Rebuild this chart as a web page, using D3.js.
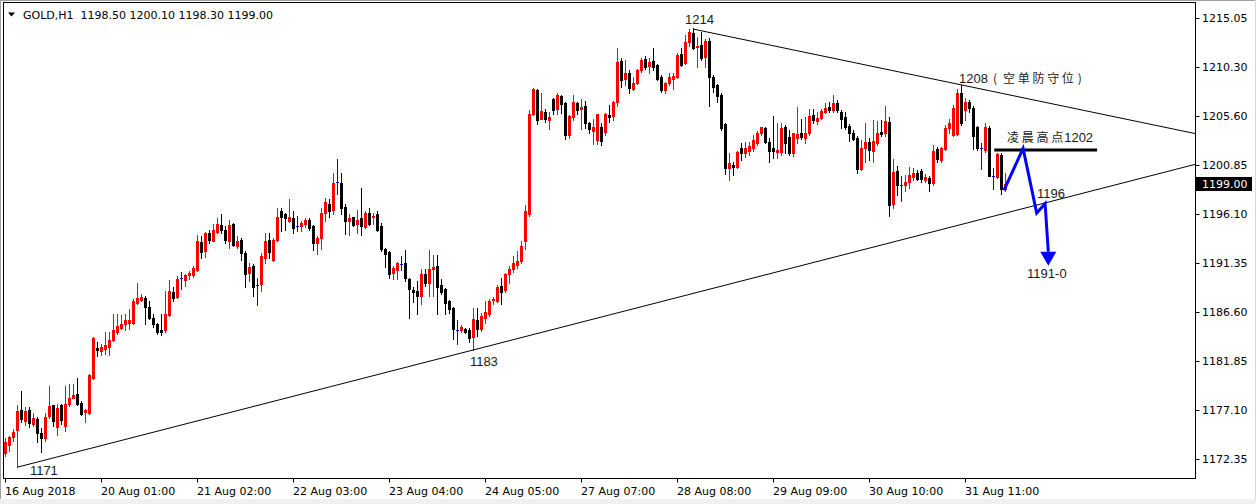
<!DOCTYPE html>
<html><head><meta charset="utf-8">
<script src="https://cdn.jsdelivr.net/npm/d3@7"></script>
<style>
html,body{margin:0;padding:0;background:#fff;}
svg{display:block;}
</style></head><body>
<svg id="c" width="1256" height="504"></svg>
<script>
// ---- data (hourly bars, index 0 = 16 Aug 2018) ----
const opens=[1173.0,1173.7,1174.5,1175.2,1177.16,1176.1,1177.16,1175.8,1176.29,1174.93,1174.45,1176.58,1177.65,1175.51,1177.65,1175.6,1177.74,1178.32,1178.71,1177.84,1176.97,1176.87,1180.26,1183.17,1182.88,1183.07,1183.26,1183.94,1184.72,1185.11,1185.49,1185.59,1185.59,1187.53,1187.82,1188.01,1187.14,1186.07,1185.49,1184.91,1184.91,1186.36,1188.59,1188.11,1189.95,1189.76,1190.24,1190.24,1190.72,1193.44,1192.57,1194.31,1193.54,1194.41,1195.08,1194.51,1193.54,1195.18,1193.05,1193.63,1192.37,1190.43,1191.11,1189.27,1189.37,1191.89,1193.63,1191.7,1193.63,1196.44,1196.06,1195.47,1195.67,1194.99,1194.99,1195.18,1195.57,1194.99,1193.34,1193.83,1196.25,1197.12,1196.54,1199.16,1199.06,1196.83,1195.38,1195.77,1195.18,1195.67,1194.89,1196.25,1195.77,1196.06,1194.99,1192.76,1192.47,1190.43,1190.72,1191.3,1191.4,1189.85,1188.79,1188.69,1188.2,1190.34,1189.46,1190.82,1191.11,1189.27,1188.89,1187.72,1187.04,1184.91,1184.91,1185.01,1184.91,1184.23,1185.88,1185.01,1186.07,1186.46,1187.82,1187.72,1189.17,1188.79,1190.34,1190.82,1191.21,1191.6,1193.54,1196.15,1205.74,1208.07,1205.26,1205.94,1205.17,1207.2,1206.23,1207.49,1206.81,1203.71,1205.46,1206.81,1206.23,1206.52,1204.88,1204.1,1203.23,1204.49,1204.0,1205.65,1205.55,1206.91,1210.88,1209.14,1209.72,1208.17,1208.75,1210.01,1211.07,1210.4,1210.88,1210.49,1209.33,1208.07,1208.75,1209.14,1209.33,1211.56,1210.69,1212.72,1213.59,1212.24,1212.43,1211.27,1212.82,1209.33,1208.56,1207.59,1204.78,1200.52,1200.81,1200.61,1202.45,1201.97,1202.16,1202.45,1202.94,1203.9,1204.39,1203.03,1202.45,1202.06,1202.06,1204.49,1203.52,1201.97,1203.42,1203.9,1203.42,1203.9,1205.65,1205.07,1205.36,1205.94,1206.42,1206.14,1206.81,1205.94,1205.46,1204.58,1203.9,1203.42,1200.42,1202.45,1203.03,1202.16,1202.94,1204.0,1203.9,1204.97,1197.12,1200.22,1198.96,1198.96,1199.16,1199.64,1200.03,1200.22,1199.35,1199.55,1199.06,1202.35,1201.29,1202.35,1204.39,1203.71,1203.81,1207.78,1206.14,1206.91,1206.33,1204.49,1202.45,1202.26,1204.39,1199.74,1199.64,1201.77,1198.5];
const highs=[1174.4,1174.64,1175.32,1177.65,1179.0,1177.45,1177.45,1176.87,1176.48,1175.42,1176.87,1179.49,1177.65,1177.74,1177.74,1179.49,1179.68,1179.68,1180.26,1178.03,1177.26,1180.65,1184.23,1183.75,1183.55,1184.72,1184.72,1186.46,1186.46,1186.36,1186.46,1186.95,1187.92,1189.46,1188.4,1188.21,1187.72,1186.46,1185.59,1186.46,1188.69,1189.76,1189.07,1190.14,1190.53,1190.34,1190.63,1191.11,1194.12,1194.02,1194.41,1194.51,1195.18,1195.67,1196.06,1194.99,1195.57,1195.28,1194.02,1193.83,1192.57,1191.4,1191.3,1189.95,1192.37,1194.22,1194.31,1193.83,1196.73,1196.64,1196.25,1197.51,1196.35,1195.96,1195.38,1195.67,1195.67,1195.08,1194.02,1196.73,1197.7,1197.6,1200.03,1201.39,1200.12,1197.12,1196.15,1195.86,1196.54,1198.67,1196.44,1196.73,1196.25,1196.44,1195.28,1192.86,1192.57,1191.11,1191.5,1192.08,1192.66,1189.95,1189.08,1189.66,1190.82,1190.82,1192.66,1192.12,1192.18,1189.85,1188.98,1187.82,1187.14,1185.88,1185.4,1185.11,1185.11,1187.04,1187.04,1186.56,1187.72,1187.92,1188.11,1189.27,1189.95,1190.43,1191.11,1192.08,1192.57,1193.54,1196.93,1206.13,1208.27,1208.17,1207.78,1206.23,1205.94,1207.3,1207.78,1207.59,1206.91,1205.65,1207.59,1206.91,1207.2,1207.0,1204.97,1205.26,1205.74,1204.88,1205.84,1206.62,1207.0,1212.14,1211.17,1210.98,1210.01,1209.33,1210.11,1211.17,1211.36,1211.17,1212.14,1210.59,1209.53,1208.85,1209.72,1209.72,1211.66,1212.14,1213.4,1213.98,1214.08,1213.2,1213.69,1213.01,1213.11,1209.53,1208.65,1207.78,1204.88,1201.97,1201.1,1202.16,1202.94,1203.03,1203.03,1203.71,1204.1,1204.49,1204.49,1203.42,1205.55,1204.88,1204.88,1204.68,1204.2,1203.9,1206.42,1205.26,1205.46,1206.23,1206.23,1205.94,1206.23,1206.81,1206.91,1207.59,1207.1,1206.14,1205.94,1204.78,1204.2,1203.61,1203.23,1204.88,1203.42,1205.17,1205.07,1205.17,1206.52,1205.46,1201.39,1200.71,1199.74,1199.84,1200.61,1200.52,1200.32,1200.42,1199.93,1199.74,1202.74,1202.55,1202.55,1204.68,1205.26,1206.62,1208.17,1208.56,1207.3,1207.1,1206.52,1204.58,1202.94,1204.88,1204.58,1200.52,1201.97,1201.97,1200.1];
const lows=[1172.7,1173.19,1174.16,1171.64,1176.0,1175.7,1175.5,1175.6,1174.06,1173.09,1174.16,1176.38,1175.6,1174.74,1175.8,1175.13,1177.55,1178.32,1177.65,1176.68,1176.0,1176.77,1180.16,1182.39,1182.48,1182.58,1182.48,1183.84,1184.52,1185.01,1184.91,1185.01,1185.49,1187.43,1187.72,1185.49,1185.98,1185.2,1184.52,1184.42,1184.72,1186.26,1187.72,1188.01,1188.89,1189.17,1189.85,1190.05,1190.63,1191.89,1191.99,1193.25,1193.54,1194.22,1194.22,1193.25,1192.86,1193.05,1192.86,1191.7,1189.08,1189.66,1188.2,1187.33,1188.69,1191.4,1191.89,1191.6,1193.54,1194.5,1194.6,1195.37,1194.31,1194.5,1194.5,1194.89,1194.6,1192.66,1192.28,1192.76,1195.47,1195.86,1196.15,1198.09,1196.15,1194.21,1194.12,1194.99,1194.22,1194.12,1194.79,1195.08,1195.18,1194.5,1192.57,1191.01,1189.95,1189.85,1189.85,1190.72,1189.66,1186.07,1187.63,1186.46,1187.43,1189.17,1188.2,1188.2,1186.46,1188.4,1186.46,1186.56,1184.04,1183.55,1184.72,1184.62,1183.75,1182.97,1184.33,1184.82,1185.59,1186.26,1187.43,1187.63,1187.43,1188.59,1189.46,1190.53,1190.92,1191.4,1192.76,1195.96,1205.65,1204.78,1205.26,1204.97,1204.29,1205.74,1205.74,1205.84,1203.32,1203.42,1205.17,1205.74,1204.29,1204.39,1203.9,1202.84,1202.84,1202.74,1203.8,1204.97,1205.17,1206.52,1208.36,1208.56,1207.78,1208.07,1208.65,1209.82,1210.11,1209.72,1210.01,1209.04,1207.88,1207.78,1208.56,1208.17,1209.24,1210.4,1210.59,1212.33,1212.04,1210.3,1210.98,1210.3,1206.52,1207.88,1206.91,1204.2,1199.93,1199.35,1199.84,1200.52,1201.29,1201.58,1201.77,1202.16,1202.74,1203.71,1202.94,1201.1,1201.48,1201.48,1201.77,1201.97,1201.77,1201.68,1202.94,1203.32,1202.94,1203.71,1204.88,1204.78,1205.26,1205.84,1205.94,1205.94,1205.94,1204.39,1204.29,1203.13,1203.23,1200.03,1200.32,1201.1,1201.29,1201.1,1202.74,1203.61,1203.61,1195.96,1196.73,1197.9,1197.41,1198.29,1198.67,1199.35,1199.35,1199.25,1199.25,1198.38,1198.87,1201.1,1201.1,1202.26,1203.9,1203.61,1203.71,1204.68,1205.17,1205.94,1202.35,1202.26,1200.42,1202.06,1199.74,1198.48,1199.55,1198.09,1198.3];
const closes=[1174.0,1174.55,1175.03,1177.07,1176.29,1177.07,1175.9,1176.38,1174.93,1174.45,1176.48,1177.55,1176.1,1177.36,1176.19,1177.74,1178.32,1178.61,1177.74,1176.77,1177.16,1180.55,1184.13,1182.97,1183.26,1183.46,1183.94,1184.91,1185.3,1185.49,1185.88,1185.88,1187.72,1188.01,1188.11,1187.14,1186.07,1185.49,1184.72,1184.72,1186.46,1188.69,1188.01,1189.85,1189.95,1190.24,1190.43,1190.92,1193.54,1192.47,1194.22,1193.63,1194.6,1195.18,1194.51,1193.63,1195.08,1193.15,1193.54,1192.37,1190.34,1191.01,1189.08,1189.27,1192.08,1193.54,1192.47,1193.63,1195.86,1195.86,1195.67,1195.77,1194.79,1194.99,1195.28,1195.57,1194.79,1193.34,1193.83,1196.25,1197.22,1196.44,1199.06,1199.16,1196.64,1195.47,1195.67,1195.08,1195.57,1194.99,1196.25,1195.18,1195.96,1194.6,1192.76,1192.28,1190.34,1190.92,1191.4,1191.3,1189.95,1188.89,1188.59,1188.2,1190.34,1189.46,1190.82,1191.01,1189.08,1188.59,1187.53,1186.95,1185.01,1184.91,1185.2,1184.72,1184.13,1185.98,1185.01,1186.26,1186.65,1187.72,1187.92,1189.08,1188.59,1190.34,1190.82,1191.4,1191.6,1193.05,1196.35,1205.74,1208.17,1205.17,1206.04,1205.26,1205.46,1206.14,1207.59,1206.71,1203.8,1205.55,1206.91,1206.14,1206.42,1204.88,1204.29,1204.49,1205.74,1203.13,1205.74,1205.46,1206.91,1210.78,1209.04,1209.72,1208.27,1208.75,1210.01,1210.98,1210.3,1210.78,1210.3,1209.14,1208.07,1208.75,1209.33,1209.43,1211.46,1210.49,1212.72,1213.69,1212.14,1212.33,1211.17,1212.82,1209.33,1208.36,1207.49,1204.39,1200.52,1201.0,1200.61,1202.06,1201.97,1202.45,1202.64,1203.23,1203.9,1204.49,1203.03,1202.16,1202.16,1202.26,1204.39,1202.94,1201.97,1203.9,1203.81,1203.52,1203.9,1205.55,1205.17,1205.36,1206.04,1206.33,1206.14,1206.81,1206.14,1205.26,1204.49,1203.9,1203.32,1200.42,1202.45,1203.03,1202.26,1203.13,1203.9,1203.81,1205.07,1196.93,1200.13,1198.87,1198.96,1199.25,1199.84,1200.03,1199.45,1199.45,1199.64,1199.06,1202.16,1201.39,1202.45,1204.39,1204.88,1206.33,1207.78,1204.88,1206.91,1206.33,1203.61,1202.45,1202.45,1204.49,1199.74,1199.74,1201.87,1198.5,1199.0];

const priceTicks=[1215.05,1210.30,1205.60,1200.85,1196.10,1191.35,1186.60,1181.85,1177.10,1172.35];
const timeTickIndex=[0,24,48,72,96,120,144,168,192,216,240];
const timeTickLabels=["16 Aug 2018","20 Aug 01:00","21 Aug 02:00","22 Aug 03:00","23 Aug 04:00","24 Aug 05:00","27 Aug 07:00","28 Aug 08:00","29 Aug 09:00","30 Aug 10:00","31 Aug 11:00"];
const headerText="GOLD,H1  1198.50 1200.10 1198.30 1199.00";
const lastPrice=1199.00;

// drawn objects (bar index, price)
const trendLower=[[3,1171.6],[117,1182.95]];
const trendUpper=[[172,1214.0],[239,1208.6]];
const resistanceLine=[[247.2,1202.3],[272.9,1202.3]];
const forecastPath=[[249.6,1198.4],[254.4,1202.45],[257.8,1196.2],[259.9,1197.1],[260.7,1192.45]];
const arrowTip=[260.7,1191.1];
const numLabels=[
  {i:169.9,p:1214.5,t:"1214"},
  {i:6.1,p:1170.84,t:"1171"},
  {i:116.1,p:1181.39,t:"1183"},
  {i:257.9,p:1197.65,t:"1196"},
  {i:255.4,p:1189.91,t:"1191-0"}
];
const noteDefense={i:238.4,p:1208.79,num:"1208",cjk:"空 单 防 守 位"};
const noteHigh={i:250.4,p:1203.03,cjk:"凌 晨 高 点",num:"1202"};

// ---- chart ----
const svg=d3.select("#c");
const W=1256,H=504;
const L=3.5,T=2.5,R=1195.5,B=478.5;
const x=d3.scaleLinear().domain([0,250]).range([5.5,1005.5]);
const y=d3.scaleLinear().domain([1172.35,1215.05]).range([459.4,18.3]);
const sy=v=>Math.round(y(v));

// window chrome
svg.append("rect").attr("x",0).attr("y",0).attr("width",W).attr("height",H).attr("fill","#fff");
svg.append("rect").attr("x",0).attr("y",499).attr("width",W).attr("height",5).attr("fill","#f0f0f0");
svg.append("line").attr("x1",0).attr("x2",W).attr("y1",0.5).attr("y2",0.5).attr("stroke","#a0a0a0");
svg.append("line").attr("x1",0.5).attr("x2",0.5).attr("y1",0).attr("y2",499).attr("stroke","#a0a0a0");
svg.append("line").attr("x1",W-0.5).attr("x2",W-0.5).attr("y1",0).attr("y2",499).attr("stroke","#d8d8d8");

svg.append("defs").append("clipPath").attr("id","plot")
  .append("rect").attr("x",L+0.5).attr("y",T+0.5).attr("width",R-L-1).attr("height",B-T-1);

const g=svg.append("g").attr("clip-path","url(#plot)");

// candles
const bars=d3.range(opens.length).map(i=>({i,o:opens[i],h:highs[i],l:lows[i],c:closes[i]}));
const col=d=>d.c>d.o?"#ff0000":(d.c<d.o?"#000000":"#0000ff");
g.selectAll("line.wick").data(bars).join("line").attr("class","wick")
  .attr("x1",d=>x(d.i)).attr("x2",d=>x(d.i))
  .attr("y1",d=>sy(d.h)).attr("y2",d=>sy(d.l)+1)
  .attr("stroke",col).attr("stroke-width",1);
g.selectAll("rect.body").data(bars.filter(d=>d.o!==d.c)).join("rect").attr("class","body")
  .attr("x",d=>x(d.i)-1.5)
  .attr("y",d=>sy(Math.max(d.o,d.c)))
  .attr("width",3)
  .attr("height",d=>Math.max(1,sy(Math.min(d.o,d.c))-sy(Math.max(d.o,d.c))+1))
  .attr("fill",col);
g.selectAll("line.doji").data(bars.filter(d=>d.o===d.c)).join("line").attr("class","doji")
  .attr("x1",d=>x(d.i)-1.5).attr("x2",d=>x(d.i)+1.5)
  .attr("y1",d=>sy(d.o)+0.5).attr("y2",d=>sy(d.o)+0.5)
  .attr("stroke","#0000ff").attr("stroke-width",1);

// trend lines (rays to right edge)
function ray(pts){
  const [a,b]=pts;const x1=x(a[0]),y1=y(a[1]),x2=x(b[0]),y2=y(b[1]);
  const k=(y2-y1)/(x2-x1);const xe=R+5;
  return [[x1,y1],[xe,y1+k*(xe-x1)]];
}
[trendLower,trendUpper].forEach(t=>{
  g.append("path").attr("d",d3.line()(ray(t))).attr("fill","none").attr("stroke","#000").attr("stroke-width",1);
});

// resistance line
g.append("path").attr("d",d3.line().x(d=>x(d[0])).y(d=>y(d[1]))(resistanceLine))
  .attr("fill","none").attr("stroke","#000").attr("stroke-width",3);

// forecast path
g.append("path").attr("d",d3.line().x(d=>x(d[0])).y(d=>y(d[1]))(forecastPath))
  .attr("fill","none").attr("stroke","#0000ff").attr("stroke-width",3).attr("stroke-linejoin","miter");
const base=forecastPath[forecastPath.length-1];
g.append("path").attr("d",d3.line()([[x(base[0]-2),y(base[1])],[x(base[0]+2),y(base[1])],[x(arrowTip[0]),y(arrowTip[1])]])+"Z")
  .attr("fill","#0000ff");

// annotations
const annFont="'Liberation Sans', Arial, sans-serif";
const cjkFont="'Noto Sans CJK SC', sans-serif";
g.selectAll("text.num").data(numLabels).join("text").attr("class","num")
  .attr("x",d=>x(d.i)).attr("y",d=>y(d.p)).text(d=>d.t)
  .attr("font-family",annFont).attr("font-size",13).attr("fill","#1a1a1a");
const t1=g.append("text").attr("x",x(noteDefense.i)).attr("y",y(noteDefense.p)).attr("fill","#1a1a1a");
t1.append("tspan").attr("font-family",annFont).attr("font-size",13).text(noteDefense.num);
t1.append("tspan").attr("dx",5).attr("font-family",cjkFont).attr("font-size",12).text("(");
t1.append("tspan").attr("dx",6).attr("font-family",cjkFont).attr("font-size",12).text(noteDefense.cjk);
t1.append("tspan").attr("dx",4).attr("font-family",cjkFont).attr("font-size",12).text(")");
const t2=g.append("text").attr("x",x(noteHigh.i)).attr("y",y(noteHigh.p)).attr("fill","#1a1a1a");
t2.append("tspan").attr("font-family",cjkFont).attr("font-size",12).text(noteHigh.cjk);
t2.append("tspan").attr("dx",1).attr("font-family",annFont).attr("font-size",13).text(noteHigh.num);

// frame
svg.append("rect").attr("x",L).attr("y",T).attr("width",R-L).attr("height",B-T)
  .attr("fill","none").attr("stroke","#000").attr("stroke-width",1);

// header
svg.append("path").attr("d","M8,12.5 L15,12.5 L11.5,16.5 Z").attr("fill","#000");
svg.append("text").attr("x",23).attr("y",18.5).attr("font-family","'DejaVu Sans', sans-serif")
  .attr("font-size",11).attr("fill","#000").style("white-space","pre").text(headerText);

// price axis
const axFont="'DejaVu Sans', sans-serif";
const pa=svg.append("g");
pa.selectAll("line").data(priceTicks).join("line")
  .attr("x1",R).attr("x2",R+4).attr("y1",d=>sy(d)+0.5).attr("y2",d=>sy(d)+0.5).attr("stroke","#000");
pa.selectAll("text").data(priceTicks).join("text")
  .attr("x",1202).attr("y",d=>y(d)+4).text(d=>d.toFixed(2))
  .attr("font-family",axFont).attr("font-size",11).attr("fill","#000");
svg.append("rect").attr("x",1196).attr("y",sy(lastPrice)-7).attr("width",56).attr("height",14).attr("fill","#000");
svg.append("text").attr("x",1202).attr("y",y(lastPrice)+4).text(lastPrice.toFixed(2))
  .attr("font-family",axFont).attr("font-size",11).attr("fill","#fff");

// time axis
const ta=svg.append("g");
ta.selectAll("line").data(timeTickIndex).join("line")
  .attr("x1",d=>x(d)).attr("x2",d=>x(d)).attr("y1",B).attr("y2",B+4).attr("stroke","#000");
ta.selectAll("text").data(timeTickIndex).join("text")
  .attr("x",d=>x(d)-0.5).attr("y",495).text((d,k)=>timeTickLabels[k])
  .attr("font-family",axFont).attr("font-size",11).attr("fill","#000");
</script>
</body></html>
